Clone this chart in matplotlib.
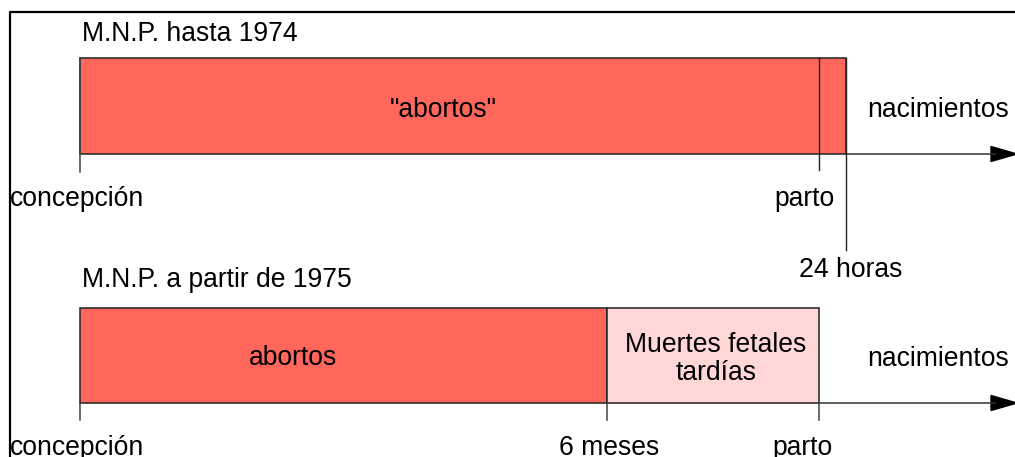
import matplotlib.pyplot as plt
from matplotlib.patches import Rectangle, Polygon

plt.rcParams['font.family'] = ['Liberation Sans', 'DejaVu Sans']

# timeline landmarks (pixel scale of the diagram)
marks_1974 = ["concepción", "parto", "24 horas"]
pos_1974 = [80, 819, 846]
marks_1975 = ["concepción", "6 meses", "parto"]
pos_1975 = [80, 607, 819]

# segments: (start, end, label, colour)
seg_1974 = [(80, 846, '"abortos"', '#ff665c')]
seg_1975 = [(80, 607, 'abortos', '#ff665c'),
            (607, 819, 'Muertes fetales\ntardías', '#ffd7d7')]

fig = plt.figure(figsize=(10.15, 4.57), dpi=100)
ax = fig.add_axes([0, 0, 1, 1])
ax.set_xlim(0, 1015)
ax.set_ylim(457, 0)
ax.axis('off')

FS = 19.1
edge = '#222222'
dy = 2  # small vertical nudge for text

# outer frame (left and top visible)
ax.plot([10, 10, 1020], [470, 12, 12], color='black', lw=1.6, solid_capstyle='projecting')


def arrow(x0, y):
    ax.plot([x0, 995], [y, y], color='#333333', lw=1.1)
    ax.add_patch(Polygon([[991, y - 7.5], [1017, y], [991, y + 7.5]],
                         closed=True, color='black'))


# --- hasta 1974 ---
top, bot = 58, 154
ax.text(82, 32 + dy, 'M.N.P. hasta 1974', fontsize=FS, va='center', ha='left')
for x0, x1, lab, col in seg_1974:
    ax.add_patch(Rectangle((x0, top), x1 - x0, bot - top, facecolor=col,
                           edgecolor=edge, lw=1.1))
ax.text(443, 108 + dy, seg_1974[0][2], fontsize=FS, ha='center', va='center')
ax.text(938, 108 + dy, 'nacimientos', fontsize=FS, ha='center', va='center')
arrow(pos_1974[2], bot)
ax.plot([pos_1974[0]] * 2, [top, 172], color='#444444', lw=1.1)
ax.plot([pos_1974[1]] * 2, [top, 170], color=edge, lw=1.0)
ax.plot([pos_1974[2]] * 2, [top, 250], color=edge, lw=1.0)
ax.text(10, 197 + dy, marks_1974[0], fontsize=FS, ha='left', va='center')
ax.text(804, 197 + dy, marks_1974[1], fontsize=FS, ha='center', va='center')
ax.text(851, 268 + dy, marks_1974[2], fontsize=FS, ha='center', va='center')

# --- a partir de 1975 ---
top, bot = 308, 403
ax.text(82, 278 + dy, 'M.N.P. a partir de 1975', fontsize=FS, va='center', ha='left')
for x0, x1, lab, col in seg_1975:
    ax.add_patch(Rectangle((x0, top), x1 - x0, bot - top, facecolor=col,
                           edgecolor=edge, lw=1.1))
ax.text(293, 356 + dy, seg_1975[0][2], fontsize=FS, ha='center', va='center')
ax.text(716, 357 + dy, seg_1975[1][2], fontsize=FS, ha='center', va='center',
        linespacing=1.12)
ax.text(938, 357 + dy, 'nacimientos', fontsize=FS, ha='center', va='center')
arrow(pos_1975[2], bot)
for x in pos_1975:
    ax.plot([x, x], [bot, 420], color='#444444', lw=1.1)
ax.text(10, 446 + dy, marks_1975[0], fontsize=FS, ha='left', va='center')
ax.text(609, 446 + dy, marks_1975[1], fontsize=FS, ha='center', va='center')
ax.text(802, 446 + dy, marks_1975[2], fontsize=FS, ha='center', va='center')

fig.savefig('out.png', dpi=100)
